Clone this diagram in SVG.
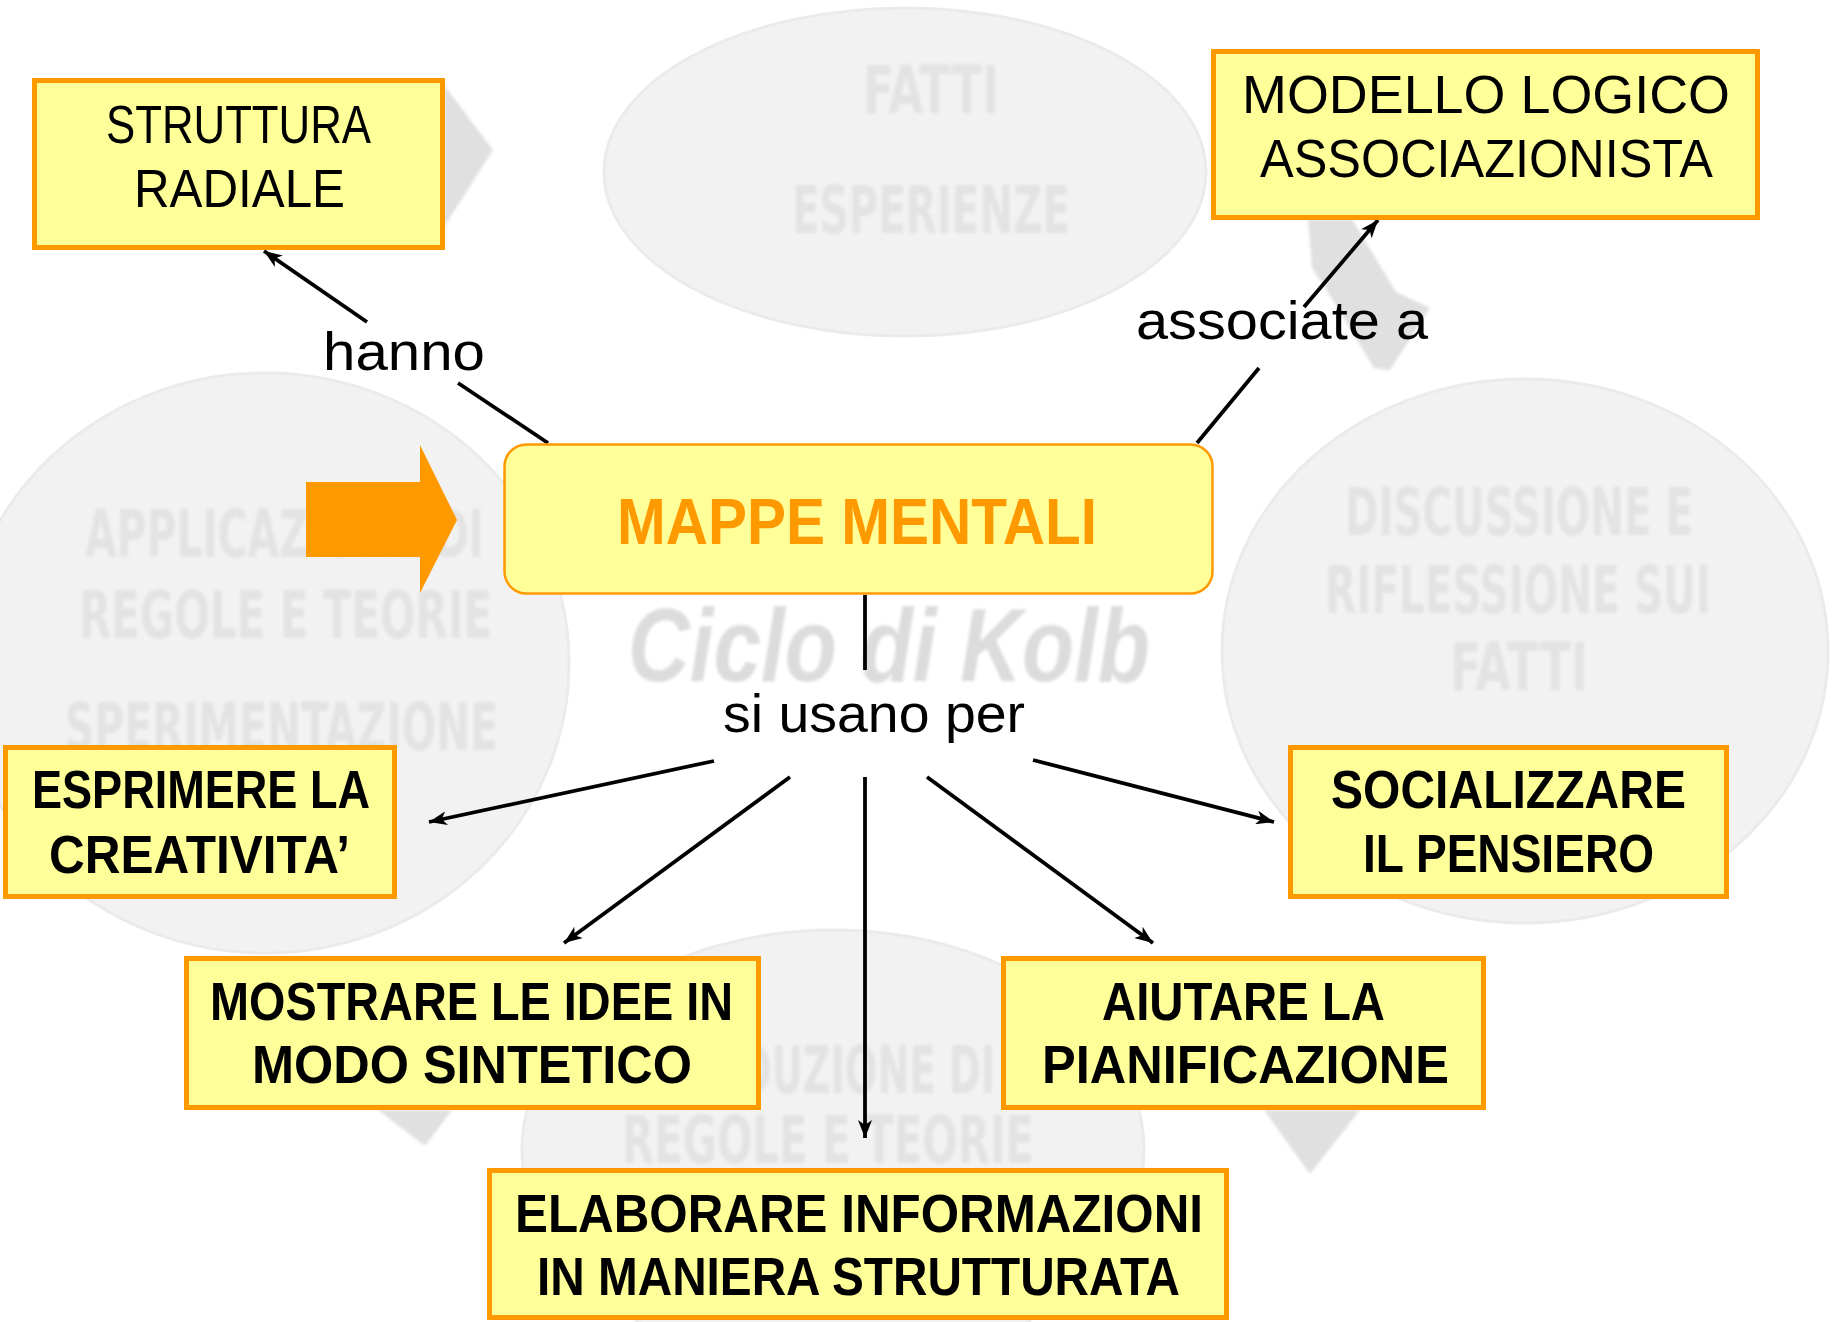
<svg xmlns="http://www.w3.org/2000/svg" width="1833" height="1322" viewBox="0 0 1833 1322">
  <defs>
    <style>
      .bg-ell { fill: #f2f2f2; stroke: #ebebeb; stroke-width: 3; }
      .wm { font-family: "Liberation Sans Narrow", "DejaVu Sans Condensed", "Liberation Sans", sans-serif; font-weight: bold; fill: #e3e3e3; font-size: 66px; }
      .kolb { font-family: "Liberation Sans", sans-serif; font-weight: bold; font-style: italic; fill: #dcdcdc; font-size: 104px; }
      .shadow { fill: #e0e0e0; }
      .box { fill: #ffff99; stroke: #ff9900; stroke-width: 5; }
      .main { fill: #ffff99; stroke: #ff9900; stroke-width: 2.5; }
      .t { font-family: "Liberation Sans", "DejaVu Sans", sans-serif; font-size: 53px; fill: #000000; }
      .tb { font-family: "Liberation Sans", "DejaVu Sans", sans-serif; font-size: 53px; font-weight: bold; fill: #000000; }
      .tm { font-family: "Liberation Sans", "DejaVu Sans", sans-serif; font-size: 64px; font-weight: bold; fill: #ff9900; }
      .lbl { font-family: "Liberation Sans", "DejaVu Sans", sans-serif; font-size: 53px; fill: #000000; }
      .conn { stroke: #000000; stroke-width: 3.8; fill: none; }
    </style>
    <marker id="arr" markerUnits="userSpaceOnUse" markerWidth="19" markerHeight="14" refX="18" refY="7" orient="auto">
      <path d="M0,0 L18,7 L0,14 L5,7 z" fill="#000000"/>
    </marker>
    <filter id="soft" x="-5%" y="-5%" width="110%" height="110%">
      <feGaussianBlur stdDeviation="1.5"/>
    </filter>
  </defs>

  <rect x="0" y="0" width="1833" height="1322" fill="#ffffff"/>

  <!-- faded background (Kolb cycle) -->
  <g id="background">
    <ellipse class="bg-ell" cx="905" cy="172" rx="301" ry="164"/>
    <ellipse class="bg-ell" cx="265" cy="663" rx="304" ry="290"/>
    <ellipse class="bg-ell" cx="1525" cy="651" rx="303" ry="272"/>
    <ellipse class="bg-ell" cx="833" cy="1150" rx="311" ry="220"/>
    <g filter="url(#soft)">
      <text class="wm" x="863" y="113" textLength="136" lengthAdjust="spacingAndGlyphs">FATTI</text>
      <text class="wm" x="792" y="233" textLength="278" lengthAdjust="spacingAndGlyphs">ESPERIENZE</text>
      <text class="wm" x="85" y="557" textLength="399" lengthAdjust="spacingAndGlyphs">APPLICAZIONE DI</text>
      <text class="wm" x="79" y="638" textLength="413" lengthAdjust="spacingAndGlyphs">REGOLE E TEORIE</text>
      <text class="wm" x="65" y="750" textLength="433" lengthAdjust="spacingAndGlyphs">SPERIMENTAZIONE</text>
      <text class="wm" x="1345" y="535" textLength="348" lengthAdjust="spacingAndGlyphs">DISCUSSIONE E</text>
      <text class="wm" x="1325" y="613" textLength="386" lengthAdjust="spacingAndGlyphs">RIFLESSIONE SUI</text>
      <text class="wm" x="1450" y="690" textLength="138" lengthAdjust="spacingAndGlyphs">FATTI</text>
      <text class="wm" x="682" y="1093" textLength="313" lengthAdjust="spacingAndGlyphs">DEDUZIONE DI</text>
      <text class="wm" x="622" y="1163" textLength="412" lengthAdjust="spacingAndGlyphs">REGOLE E TEORIE</text>
      <text class="kolb" x="628" y="681" textLength="522" lengthAdjust="spacingAndGlyphs">Ciclo di Kolb</text>
    </g>
    <g filter="url(#soft)">
      <polygon class="shadow" points="444,85 493,150 444,227"/>
      <polygon class="shadow" points="1308,219 1352,219 1396,292 1430,308 1390,370 1374,368 1334,302 1312,268"/>
      <polygon class="shadow" points="378,1110 452,1110 425,1146"/>
      <polygon class="shadow" points="1264,1110 1360,1110 1310,1174"/>
    </g>
  </g>

  <!-- orange pointer arrow -->
  <g id="pointer">
    <polygon points="306,482 420,482 420,445 457,520 420,593 420,557 306,557" fill="#ff9900"/>
  </g>

  <!-- connectors -->
  <g id="connectors">
    <line class="conn" x1="548" y1="443" x2="458" y2="383"/>
    <line class="conn" x1="367" y1="322" x2="264" y2="251" marker-end="url(#arr)"/>
    <line class="conn" x1="1197" y1="443" x2="1259" y2="368"/>
    <line class="conn" x1="1304" y1="307" x2="1378" y2="220" marker-end="url(#arr)"/>
    <line class="conn" x1="865" y1="595" x2="865" y2="670"/>
    <line class="conn" x1="714" y1="761" x2="429" y2="822" marker-end="url(#arr)"/>
    <line class="conn" x1="790" y1="777" x2="564" y2="943" marker-end="url(#arr)"/>
    <line class="conn" x1="865" y1="777" x2="865" y2="1138" marker-end="url(#arr)"/>
    <line class="conn" x1="927" y1="777" x2="1153" y2="943" marker-end="url(#arr)"/>
    <line class="conn" x1="1033" y1="760" x2="1274" y2="822" marker-end="url(#arr)"/>
  </g>

  <!-- connector labels -->
  <g id="labels">
    <text class="lbl" x="323" y="370" textLength="162" lengthAdjust="spacingAndGlyphs">hanno</text>
    <text class="lbl" x="1136" y="339" textLength="292" lengthAdjust="spacingAndGlyphs">associate a</text>
    <text class="lbl" x="723" y="732" textLength="302" lengthAdjust="spacingAndGlyphs">si usano per</text>
  </g>

  <!-- nodes -->
  <g id="node-mappe">
    <rect class="main" x="504.5" y="444.5" width="708" height="149" rx="22" ry="22"/>
    <text class="tm" x="617" y="544" textLength="480" lengthAdjust="spacingAndGlyphs">MAPPE MENTALI</text>
  </g>

  <g id="node-struttura">
    <rect class="box" x="34.5" y="80.5" width="408" height="167"/>
    <text class="t" x="106" y="143" textLength="265" lengthAdjust="spacingAndGlyphs">STRUTTURA</text>
    <text class="t" x="134" y="207" textLength="211" lengthAdjust="spacingAndGlyphs">RADIALE</text>
  </g>

  <g id="node-modello">
    <rect class="box" x="1213.5" y="51.5" width="544" height="166"/>
    <text class="t" x="1242" y="113" textLength="488" lengthAdjust="spacingAndGlyphs">MODELLO LOGICO</text>
    <text class="t" x="1260" y="177" textLength="453" lengthAdjust="spacingAndGlyphs">ASSOCIAZIONISTA</text>
  </g>

  <g id="node-esprimere">
    <rect class="box" x="5.5" y="747.5" width="389" height="149"/>
    <text class="tb" x="32" y="808" textLength="338" lengthAdjust="spacingAndGlyphs">ESPRIMERE LA</text>
    <text class="tb" x="49" y="873" textLength="301" lengthAdjust="spacingAndGlyphs">CREATIVITA’</text>
  </g>

  <g id="node-socializzare">
    <rect class="box" x="1290.5" y="747.5" width="436" height="149"/>
    <text class="tb" x="1331" y="808" textLength="355" lengthAdjust="spacingAndGlyphs">SOCIALIZZARE</text>
    <text class="tb" x="1363" y="872" textLength="291" lengthAdjust="spacingAndGlyphs">IL PENSIERO</text>
  </g>

  <g id="node-mostrare">
    <rect class="box" x="186.5" y="958.5" width="572" height="149"/>
    <text class="tb" x="210" y="1020" textLength="523" lengthAdjust="spacingAndGlyphs">MOSTRARE LE IDEE IN</text>
    <text class="tb" x="252" y="1083" textLength="440" lengthAdjust="spacingAndGlyphs">MODO SINTETICO</text>
  </g>

  <g id="node-aiutare">
    <rect class="box" x="1003.5" y="958.5" width="480" height="149"/>
    <text class="tb" x="1102" y="1020" textLength="283" lengthAdjust="spacingAndGlyphs">AIUTARE LA</text>
    <text class="tb" x="1042" y="1083" textLength="407" lengthAdjust="spacingAndGlyphs">PIANIFICAZIONE</text>
  </g>

  <g id="node-elaborare">
    <rect class="box" x="489.5" y="1170.5" width="737" height="147"/>
    <text class="tb" x="515" y="1232" textLength="688" lengthAdjust="spacingAndGlyphs">ELABORARE INFORMAZIONI</text>
    <text class="tb" x="537" y="1295" textLength="643" lengthAdjust="spacingAndGlyphs">IN MANIERA STRUTTURATA</text>
  </g>
</svg>
